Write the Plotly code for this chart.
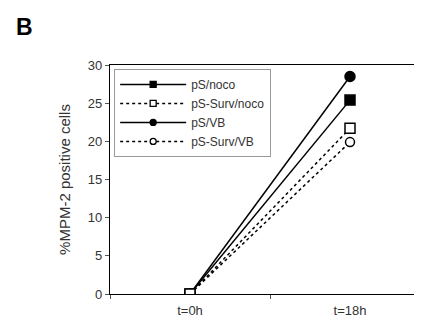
import plotly.graph_objects as go

categories = ["t=0h", "t=18h"]
series_names = ["pS/noco", "pS-Surv/noco", "pS/VB", "pS-Surv/VB"]
ps_noco = [0, 25.4]
ps_surv_noco = [0, 21.7]
ps_vb = [0, 28.5]
ps_surv_vb = [0, 19.9]
y_ticks = [0, 5, 10, 15, 20, 25, 30]

values = [ps_noco, ps_surv_noco, ps_vb, ps_surv_vb]
styles = [
    dict(dash="solid", symbol="square", size=10, fill="black"),
    dict(dash="3px,3px", symbol="square", size=10, fill="white"),
    dict(dash="solid", symbol="circle", size=10, fill="black"),
    dict(dash="3px,3px", symbol="circle", size=9, fill="white"),
]
draw_order = [0, 2, 3, 1]

fig = go.Figure()
for i in draw_order:
    name, vals, st = series_names[i], values[i], styles[i]
    fig.add_trace(go.Scatter(
        x=categories, y=vals, name=name, mode="lines+markers", showlegend=False,
        line=dict(color="black", width=1.5, dash=st["dash"]),
        marker=dict(symbol=st["symbol"], size=st["size"], color=st["fill"],
                    line=dict(color="black", width=1.5)),
    ))
# legend-only entries with smaller symbols
for name, st in zip(series_names, styles):
    fig.add_trace(go.Scatter(
        x=[None], y=[None], name=name, mode="lines+markers",
        line=dict(color="black", width=1.5, dash=st["dash"]),
        marker=dict(symbol=st["symbol"], size=6, color=st["fill"],
                    line=dict(color="black", width=1.3)),
    ))

fig.update_layout(
    width=422, height=324,
    margin=dict(l=102, r=0, t=57, b=38),
    paper_bgcolor="white", plot_bgcolor="white",
    font=dict(family="Liberation Sans, Arial, sans-serif", size=13, color="#333"),
    showlegend=True,
    legend=dict(x=0.013, y=0.983, xanchor="left", yanchor="top",
                bordercolor="#999", borderwidth=1, bgcolor="white",
                font=dict(size=12), itemwidth=66, tracegroupgap=0),
)
fig.add_annotation(text="<b>B</b>", xref="paper", yref="paper",
                   x=-0.30, y=1.23, xanchor="left", yanchor="top",
                   showarrow=False, font=dict(size=23, color="black"))

fig.update_xaxes(type="category", range=[-0.5, 1.5], showline=True,
                 linecolor="black", linewidth=1.2, mirror=True,
                 ticks="outside", ticklen=4, tickson="boundaries",
                 tickcolor="#555", showgrid=False, zeroline=False,
                 ticklabelstandoff=4)
fig.update_yaxes(range=[0, 30], tickvals=y_ticks, showline=True,
                 linecolor="black", linewidth=1.2, ticks="outside", ticklen=4,
                 tickcolor="#555", showgrid=False, zeroline=False,
                 title=dict(text="%MPM-2 positive cells", font=dict(size=15), standoff=13))

fig.write_html("out.html")
